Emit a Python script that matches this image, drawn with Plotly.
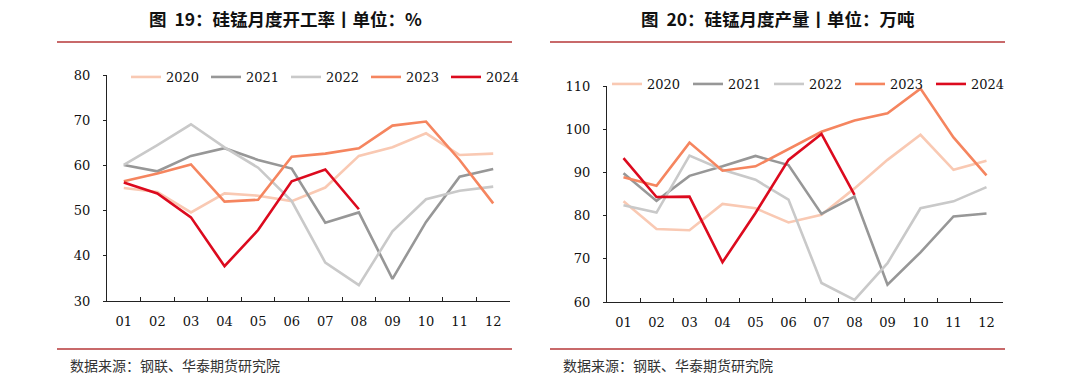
import plotly.graph_objects as go

months = ["01", "02", "03", "04", "05", "06", "07", "08", "09", "10", "11", "12"]
years = ["2020", "2021", "2022", "2023", "2024"]

# 硅锰月度开工率 (%)
rate_2020 = [55.0, 54.1, 49.6, 53.8, 53.3, 52.1, 55.1, 62.1, 64.0, 67.1, 62.3, 62.6]
rate_2021 = [60.1, 58.7, 62.1, 63.8, 61.2, 59.3, 47.3, 49.6, 34.9, 47.5, 57.5, 59.2]
rate_2022 = [60.1, 64.5, 69.1, 64.0, 59.5, 52.1, 38.5, 33.5, 45.4, 52.5, 54.4, 55.3]
rate_2023 = [56.5, 58.2, 60.2, 52.0, 52.4, 61.9, 62.6, 63.8, 68.8, 69.7, 61.2, 51.6]
rate_2024 = [56.2, 53.8, 48.5, 37.7, 45.7, 56.5, 59.1, 50.3]

# 硅锰月度产量 (万吨)
output_2020 = [83.3, 76.9, 76.6, 82.7, 81.7, 78.4, 80.2, 86.3, 92.9, 98.7, 90.6, 92.7]
output_2021 = [89.8, 83.4, 89.2, 91.4, 93.8, 91.7, 80.4, 84.4, 64.0, 71.5, 79.8, 80.5]
output_2022 = [82.4, 80.7, 93.9, 90.6, 88.3, 83.7, 64.4, 60.5, 69.0, 81.7, 83.3, 86.6]
output_2023 = [88.9, 86.9, 96.9, 90.4, 91.4, 95.4, 99.4, 102.0, 103.7, 109.4, 98.1, 89.3]
output_2024 = [93.3, 84.3, 84.4, 69.2, 80.6, 92.9, 98.9, 84.8]

rate_ticks = [30, 40, 50, 60, 70, 80]
output_ticks = [60, 70, 80, 90, 100, 110]

title_left = "图  19：硅锰月度开工率丨单位：%"
title_right = "图  20：硅锰月度产量丨单位：万吨"
source_text = "数据来源：钢联、华泰期货研究院"

colors = ["#F9C9B3", "#979797", "#C9C9C9", "#F5855F", "#DC0A1E"]

W, H = 1080, 385

def px_x(p):
    return p / W

def px_y(p):
    return 1 - p / H

fig = go.Figure()

rate_series = [rate_2020, rate_2021, rate_2022, rate_2023, rate_2024]
output_series = [output_2020, output_2021, output_2022, output_2023, output_2024]

for name, vals, c in zip(years, rate_series, colors):
    fig.add_trace(go.Scatter(
        x=months[:len(vals)], y=vals, name=name, mode="lines",
        line=dict(color=c, width=2.6), xaxis="x", yaxis="y", legend="legend"))

for name, vals, c in zip(years, output_series, colors):
    fig.add_trace(go.Scatter(
        x=months[:len(vals)], y=vals, name=name, mode="lines",
        line=dict(color=c, width=2.6), xaxis="x2", yaxis="y2", legend="legend2"))

tick_font = dict(family="DejaVu Serif", size=13, color="#111111")

xcommon = dict(type="category", categoryorder="array", categoryarray=months,
               range=[-0.5, 11.5], showline=True, linecolor="#222222", linewidth=1.3,
               ticks="inside", tickson="boundaries", ticklen=4, tickcolor="#222222",
               tickwidth=1, showgrid=False, zeroline=False, tickfont=tick_font,
               ticklabelstandoff=8, tickangle=0, automargin=False)
ycommon = dict(showline=True, linecolor="#222222", linewidth=1.3, ticks="outside",
               ticklen=3, tickcolor="#222222", showgrid=False, zeroline=False,
               tickfont=tick_font, ticklabelstandoff=10, automargin=False)

legend_font = dict(family="DejaVu Serif", size=13, color="#111111")

fig.update_layout(
    width=W, height=H,
    margin=dict(l=0, r=0, t=0, b=0, autoexpand=False),
    paper_bgcolor="white", plot_bgcolor="white",
    xaxis=dict(domain=[px_x(107), px_x(510)], anchor="y", **xcommon),
    yaxis=dict(domain=[px_y(301), px_y(75)], anchor="x", range=[30, 80],
               tickvals=rate_ticks, **ycommon),
    xaxis2=dict(domain=[px_x(607), px_x(1003)], anchor="y2", **xcommon),
    yaxis2=dict(domain=[px_y(302), px_y(86)], anchor="x2", range=[60, 110],
                tickvals=output_ticks, **ycommon),
    legend=dict(orientation="h", x=px_x(126), y=px_y(77), xanchor="left", yanchor="middle",
                entrywidth=35, entrywidthmode="pixels", bgcolor="rgba(0,0,0,0)",
                font=legend_font, itemclick=False, tracegroupgap=0),
    legend2=dict(orientation="h", x=px_x(607), y=px_y(84), xanchor="left", yanchor="middle",
                 entrywidth=36, entrywidthmode="pixels", bgcolor="rgba(0,0,0,0)",
                 font=legend_font, itemclick=False, tracegroupgap=0),
    showlegend=True,
)

rule_color = "#C8696A"
for x0, x1 in [(57, 512), (550, 1005)]:
    for yy in [42, 349]:
        fig.add_shape(type="line", xref="paper", yref="paper",
                      x0=px_x(x0), x1=px_x(x1), y0=px_y(yy), y1=px_y(yy),
                      line=dict(color=rule_color, width=2))

title_font = dict(family="Noto Sans CJK SC", size=17.5, color="#111111")
fig.add_annotation(text="<b>" + title_left + "</b>", xref="paper", yref="paper",
                   x=px_x(285), y=px_y(18), xanchor="center", yanchor="middle",
                   showarrow=False, font=title_font)
fig.add_annotation(text="<b>" + title_right + "</b>", xref="paper", yref="paper",
                   x=px_x(778), y=px_y(18), xanchor="center", yanchor="middle",
                   showarrow=False, font=title_font)

src_font = dict(family="Noto Sans CJK SC", size=14, color="#333333")
for xs in [68, 561]:
    fig.add_annotation(text=source_text, xref="paper", yref="paper",
                       x=px_x(xs), y=px_y(365), xanchor="left", yanchor="middle",
                       showarrow=False, font=src_font)

fig.write_html("out.html", config={"displayModeBar": False},
               post_script="document.body.style.margin='0';document.body.style.padding='0';")
